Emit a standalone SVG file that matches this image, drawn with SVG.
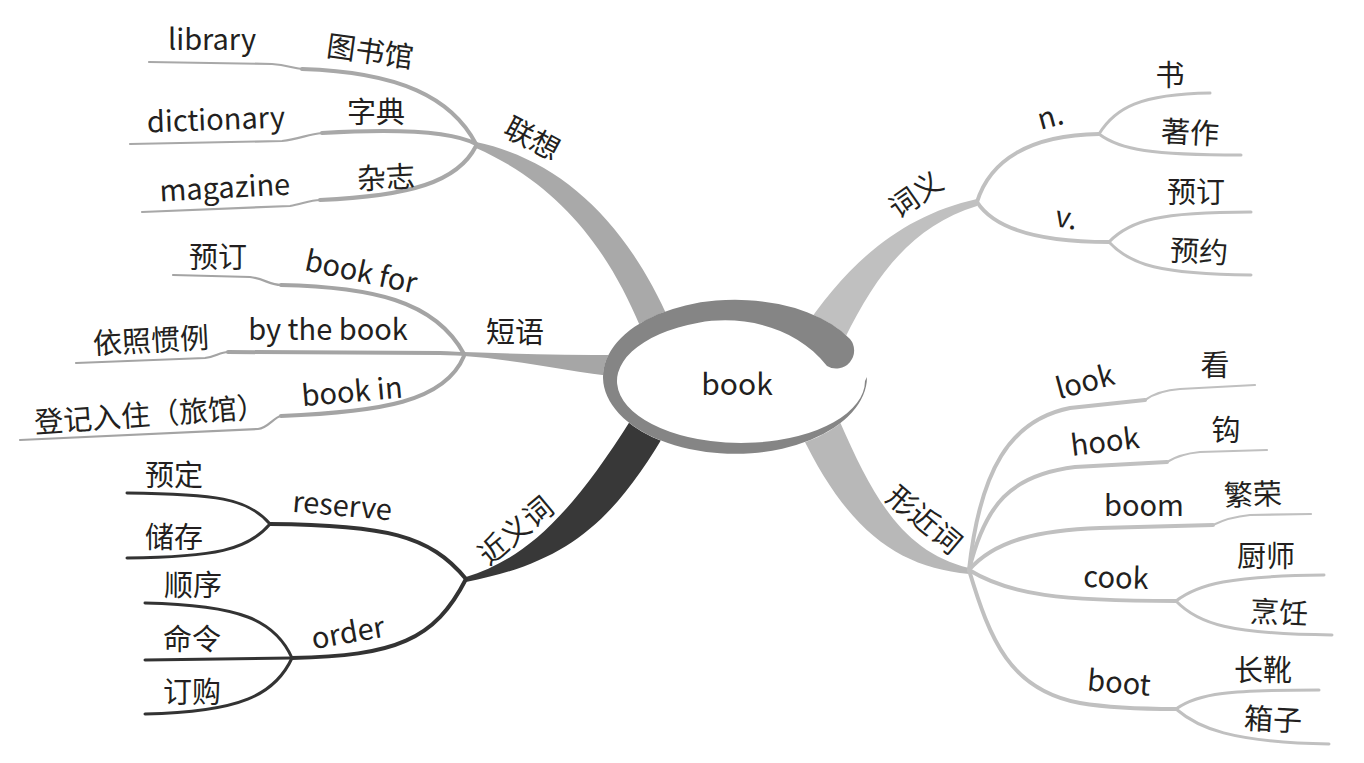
<svg xmlns="http://www.w3.org/2000/svg" width="1364" height="763" viewBox="0 0 1364 763">
<style>
text{font-family:"Noto Sans CJK SC","Noto Sans",sans-serif;fill:#231f20;text-anchor:middle}
.en{font-size:29px}
.zh{font-size:29px}
.l{fill:none;stroke-linecap:round}
.g1{stroke:#a8a8a8}
.g2{stroke:#a4a4a4}
.dk{stroke:#333333}
.lt{stroke:#c0c0c0}
.t{stroke-width:4}
.n{stroke-width:2.2}
</style>
<rect width="1364" height="763" fill="#ffffff"/>
<g id="connectors">
  <!-- stems -->
  <path d="M476,142 C560,160 625,220 670,322 L640,326 C608,250 560,185 476,148 Z" fill="#a9a9a9"/>
  <path d="M464,352 C520,354 570,355 620,355 L620,377 C570,372 520,360 464,356 Z" fill="#a6a6a6"/>
  <path d="M466,577 C520,560 565,525 632,418 L670,425 C615,520 570,562 466,582 Z" fill="#383838"/>
  <path d="M800,335 C845,265 900,216 977,199 L977,206 C912,226 876,275 845,338 Z" fill="#c0c0c0"/>
  <path d="M840,422 C874,500 904,552 969,568 L969,574 C898,567 848,532 800,432 Z" fill="#b8b8b8"/>
  <!-- 联想 -->
  <path class="l g1 t" d="M302,69 C400,72 452,98 476,144"/>
  <path class="l g1 n" d="M149,62 L272,64 C287,65 292,68 302,69"/>
  <path class="l g1 t" d="M322,133 C390,129 450,130 476,144"/>
  <path class="l g1 n" d="M130,144 L282,141 C300,139 308,134 322,133"/>
  <path class="l g1 t" d="M320,200 C410,196 458,182 476,146"/>
  <path class="l g1 n" d="M142,212 L290,206 C302,204 310,200 320,200"/>
  <!-- 短语 -->
  <path class="l g2 t" d="M281,285 C370,287 435,300 464,354"/>
  <path class="l g2 n" d="M173,275 L250,277 C265,279 270,285 281,285"/>
  <path class="l g2 t" d="M228,352 L440,353 C452,353 458,354 464,354"/>
  <path class="l g2 n" d="M76,363 L205,358 C215,357 220,352 228,352"/>
  <path class="l g2 t" d="M281,416 C380,412 445,402 464,356"/>
  <path class="l g2 n" d="M20,440 L258,429 C268,428 274,417 281,416"/>
  <!-- 近义词 -->
  <path class="l dk t" d="M466,579 C430,535 385,525 270,524"/>
  <path class="l dk" stroke-width="3" d="M270,524 C248,498 215,494 127,493"/>
  <path class="l dk" stroke-width="3" d="M270,524 C248,550 215,557 127,558"/>
  <path class="l dk t" d="M466,579 C435,640 395,656 292,658"/>
  <path class="l dk" stroke-width="3" d="M292,658 C275,620 240,605 145,603"/>
  <path class="l dk" stroke-width="3" d="M292,658 L145,660"/>
  <path class="l dk" stroke-width="3" d="M292,658 C275,695 240,712 145,714"/>
  <!-- 词义 -->
  <path class="l lt t" d="M977,202 C990,160 1030,135 1099,134"/>
  <path class="l lt" stroke-width="3" d="M1099,134 C1115,108 1140,94 1210,93"/>
  <path class="l lt" stroke-width="3" d="M1099,134 C1120,150 1152,155 1241,155"/>
  <path class="l lt t" d="M977,202 C995,230 1040,242 1109,242"/>
  <path class="l lt" stroke-width="3" d="M1109,242 C1130,220 1160,212 1251,212"/>
  <path class="l lt" stroke-width="3" d="M1109,242 C1130,265 1160,274 1251,275"/>
  <!-- 形近词 -->
  <path class="l lt t" d="M969,570 C980,470 1010,420 1070,408 L1145,400"/>
  <path class="l lt n" d="M1145,400 C1155,393 1165,390 1180,389 L1255,385"/>
  <path class="l lt t" d="M969,570 C985,505 1010,475 1075,467 L1167,462"/>
  <path class="l lt n" d="M1167,462 C1178,455 1190,453 1200,452 L1267,450"/>
  <path class="l lt t" d="M969,570 C995,540 1040,530 1100,528 L1213,525"/>
  <path class="l lt n" d="M1213,525 C1225,519 1240,516 1250,515 L1311,514"/>
  <path class="l lt t" d="M969,570 C1010,595 1060,601 1176,601"/>
  <path class="l lt" stroke-width="3" d="M1176,601 C1198,584 1230,576 1324,575"/>
  <path class="l lt" stroke-width="3" d="M1176,601 C1198,624 1230,634 1332,635"/>
  <path class="l lt t" d="M969,570 C990,640 1010,690 1080,703 C1110,708 1150,709 1176,709"/>
  <path class="l lt" stroke-width="3" d="M1176,709 C1198,693 1230,690 1319,690"/>
  <path class="l lt" stroke-width="3" d="M1176,709 C1198,728 1230,742 1329,744"/>
</g>
<g id="center">
  <ellipse cx="735" cy="377" rx="132" ry="77" fill="#ffffff"/>
  <path fill="#858585" d="M850,339 A132,77 0 1,0 867,377 L865,381 A124,62 0 1,1 698.6,322.7 C740,315 795,325 827,366 A18,18 0 0,0 850,339 Z"/>
  <text class="en" x="737" y="395" style="font-size:30px">book</text>
</g>
<g id="lianxiang">
  <text class="zh" transform="translate(532,139) rotate(28)" y="10">联想</text>
  <text class="en" x="212" y="50">library</text>
  <text class="zh" transform="translate(370,52) rotate(8)" y="10">图书馆</text>
  <text class="en" transform="translate(216,122) rotate(-2)" y="8">dictionary</text>
  <text class="zh" x="376" y="123">字典</text>
  <text class="en" transform="translate(225,193) rotate(-3)" y="5">magazine</text>
  <text class="zh" transform="translate(386,178) rotate(-3)" y="10">杂志</text>
</g>
<g id="duanyu">
  <text class="zh" x="515" y="343">短语</text>
  <text class="zh" x="218" y="268">预订</text>
  <text class="en" transform="translate(361,272) rotate(12)" y="10">book for</text>
  <text class="zh" transform="translate(151,341) rotate(-3)" y="10">依照惯例</text>
  <text class="en" x="328" y="340">by the book</text>
  <text class="zh" transform="translate(150,415) rotate(-4)" y="10">登记入住（旅馆）</text>
  <text class="en" transform="translate(352,392) rotate(-5)" y="10">book in</text>
</g>
<g id="jinyici">
  <text class="zh" transform="translate(516,531) rotate(-40)" y="10">近义词</text>
  <text class="en" transform="translate(342,509) rotate(5)" y="7">reserve</text>
  <text class="zh" x="174" y="486">预定</text>
  <text class="zh" x="174" y="548">储存</text>
  <text class="en" transform="translate(348,633) rotate(-10)" y="10">order</text>
  <text class="zh" x="193" y="596">顺序</text>
  <text class="zh" x="192" y="650">命令</text>
  <text class="zh" x="192" y="703">订购</text>
</g>
<g id="ciyi">
  <text class="zh" transform="translate(916,195) rotate(-35)" y="10">词义</text>
  <text class="en" transform="translate(1051,120) rotate(-15)" y="7">n.</text>
  <text class="zh" x="1170" y="86">书</text>
  <text class="zh" transform="translate(1190,133) rotate(3)" y="10">著作</text>
  <text class="en" transform="translate(1066,221) rotate(10)" y="7">v.</text>
  <text class="zh" x="1196" y="203">预订</text>
  <text class="zh" transform="translate(1199,252) rotate(3)" y="10">预约</text>
</g>
<g id="xingjinci">
  <text class="zh" transform="translate(924,520) rotate(40)" y="10">形近词</text>
  <text class="en" transform="translate(1085,382) rotate(-15)" y="10">look</text>
  <text class="zh" x="1215" y="376">看</text>
  <text class="en" transform="translate(1105,442) rotate(-7)" y="10">hook</text>
  <text class="zh" x="1226" y="441">钩</text>
  <text class="en" x="1144" y="516">boom</text>
  <text class="zh" transform="translate(1253,495) rotate(-2)" y="10">繁荣</text>
  <text class="en" transform="translate(1116,578) rotate(2)" y="10">cook</text>
  <text class="zh" x="1266" y="567">厨师</text>
  <text class="zh" transform="translate(1279,613) rotate(3)" y="10">烹饪</text>
  <text class="en" transform="translate(1119,683) rotate(5)" y="10">boot</text>
  <text class="zh" x="1263" y="681">长靴</text>
  <text class="zh" transform="translate(1273,720) rotate(3)" y="10">箱子</text>
</g>
</svg>
